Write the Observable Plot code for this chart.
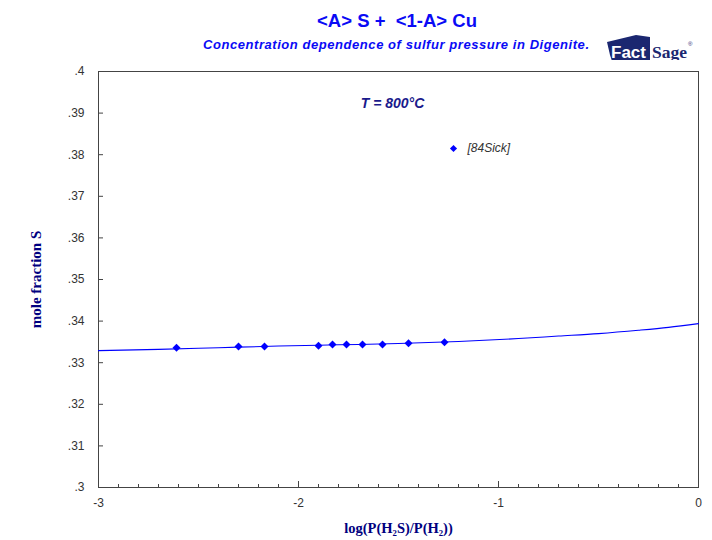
<!DOCTYPE html>
<html>
<head>
<meta charset="utf-8">
<script src="https://cdn.jsdelivr.net/npm/d3@7"></script>
<script src="https://cdn.jsdelivr.net/npm/@observablehq/plot@0.6"></script>
<style>
  body { margin: 0; background: #fff; }
  #wrap { width: 712px; }
  #head { display: block; }
</style>
</head>
<body>
<div id="wrap">
  <svg id="head" width="712" height="60" xmlns="http://www.w3.org/2000/svg">
    <text x="397" y="27" text-anchor="middle" style="white-space:pre" font-family="Liberation Sans, Arial, sans-serif" font-weight="bold" font-size="18.5" fill="#0a0af5">&lt;A&gt; S +  &lt;1-A&gt; Cu</text>
    <text x="203" y="49" font-family="Liberation Sans, Arial, sans-serif" font-weight="bold" font-style="italic" font-size="13" fill="#0a0af5" textLength="386" lengthAdjust="spacing">Concentration dependence of sulfur pressure in Digenite.</text>
    <g id="logo">
      <polygon points="607,42 636,35 650,37 650,61 613,64 610,55" fill="#1b2770"/>
      <text x="611" y="58" font-family="Liberation Sans, Arial, sans-serif" font-weight="bold" font-size="16" fill="#fff" textLength="35" lengthAdjust="spacingAndGlyphs">Fact</text>
      <text x="652" y="58" font-family="Liberation Serif, serif" font-weight="bold" font-size="16" fill="#1b2770" textLength="35" lengthAdjust="spacingAndGlyphs">Sage</text>
      <text x="688" y="46" font-family="Liberation Sans, Arial, sans-serif" font-size="6" fill="#1b2770">®</text>
    </g>
  </svg>
  <div id="chart"></div>
</div>
<script>
// Calculated equilibrium curve: mole fraction of S vs log(P(H2S)/P(H2)) at 800 °C
const curveLogP = [-3, -2.7, -2.4, -2.1, -1.8, -1.5, -1.2, -0.9, -0.7, -0.5, -0.3, -0.15, 0];
const curveXS   = [0.3329, 0.3332, 0.3336, 0.3340, 0.3343, 0.3346, 0.3351, 0.3358, 0.3364, 0.3370, 0.3378, 0.3385, 0.3394];

// Measured points [84Sick]
const sickLogP = [-2.61, -2.30, -2.17, -1.90, -1.83, -1.76, -1.68, -1.58, -1.45, -1.27];
const sickXS   = [0.3336, 0.3339, 0.3339, 0.3341, 0.3344, 0.3344, 0.3344, 0.3344, 0.3347, 0.3349];

// Axis ticks
const yTicks = [0.30, 0.31, 0.32, 0.33, 0.34, 0.35, 0.36, 0.37, 0.38, 0.39, 0.40];
const xMajorTicks = [-3, -2, -1, 0];
const xMinorTicks = d3.range(-30, 1).map(i => i / 10);

// Annotations
const tempLabel = {x: -1.53, y: 0.3923, text: "T = 800°C"};
const legendEntry = {x: -1.225, y: 0.3815, text: "[84Sick]"};
const xLabel = "log(P(H₂S)/P(H₂))";
const yLabel = "mole fraction S";

const curve = curveLogP.map((x, i) => ({x, y: curveXS[i]}));
const points = sickLogP.map((x, i) => ({x, y: sickXS[i]}));

const blue = "#0000ff";
const navy = "#1a1a8c";
const serif = "Liberation Serif, DejaVu Serif, serif";

const fmtY = d => d3.format(".2f")(d).replace(/^0/, "").replace(/0$/, "");

const chart = Plot.plot({
  width: 712,
  height: 480,
  marginTop: 11,
  marginLeft: 98,
  marginRight: 14,
  marginBottom: 53,
  style: {fontFamily: "Liberation Sans, Arial, sans-serif", fontSize: "12px", color: "#333", background: "#fff"},
  x: {domain: [-3, 0]},
  y: {domain: [0.3, 0.4]},
  marks: [
    Plot.frame({stroke: "#444"}),
    Plot.axisY({ticks: yTicks, tickFormat: fmtY, tickSize: -5, tickPadding: 19, stroke: "#444", fill: "#333", label: null, fontSize: 12}),
    Plot.axisX({ticks: xMinorTicks, tickSize: -3, stroke: "#444", fill: "none", label: null}),
    Plot.axisX({ticks: xMajorTicks, tickFormat: d => String(d), tickSize: -6, tickPadding: 17, stroke: "#444", fill: "#333", label: null, fontSize: 12}),
    Plot.line(curve, {x: "x", y: "y", stroke: blue, strokeWidth: 1.1, curve: "monotone-x"}),
    Plot.dot(points, {x: "x", y: "y", symbol: "diamond2", r: 3.6, fill: blue, stroke: "none"}),
    Plot.text([tempLabel], {x: "x", y: "y", text: "text", fontSize: 14, fontWeight: "bold", fontStyle: "italic", fill: navy}),
    Plot.dot([legendEntry], {x: "x", y: "y", symbol: "diamond2", r: 3.2, fill: blue, stroke: "none"}),
    Plot.text([legendEntry], {x: "x", y: "y", text: "text", dx: 14, textAnchor: "start", fontSize: 12, fontStyle: "italic", fill: "#333"}),
    Plot.text([xLabel], {frameAnchor: "bottom", dy: 41, lineAnchor: "middle", textAnchor: "middle", text: d => d, fontFamily: serif, fontWeight: "bold", fontSize: 14.5, fill: "#000080"}),
    Plot.text([yLabel], {frameAnchor: "left", dx: -62, rotate: -90, lineAnchor: "middle", textAnchor: "middle", text: d => d, fontFamily: serif, fontWeight: "bold", fontSize: 15, fill: "#000080", ariaLabel: "y-label"})
  ]
});

// widen the vertical axis title's letter spacing
d3.select(chart).selectAll('g[aria-label="y-label"] text').attr("letter-spacing", "2px");

document.getElementById("chart").appendChild(chart);
</script>
</body>
</html>
